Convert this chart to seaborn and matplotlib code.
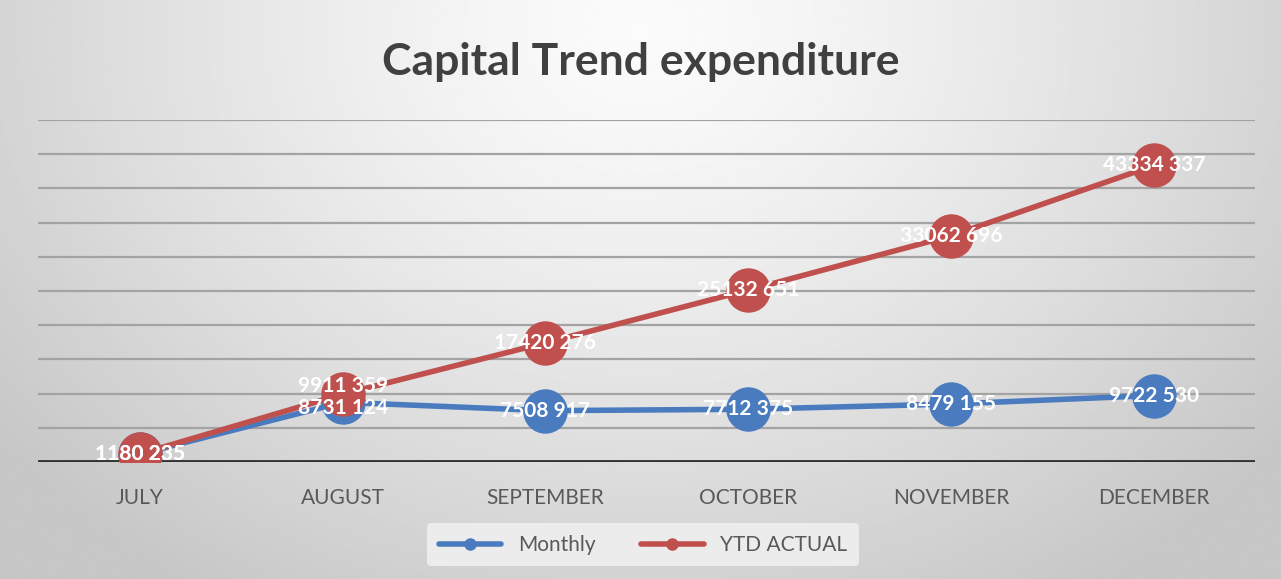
import numpy as np
import pandas as pd
import matplotlib
matplotlib.use("Agg")
import matplotlib.pyplot as plt
from matplotlib.lines import Line2D
import seaborn as sns

# chart data
months = ["JULY", "AUGUST", "SEPTEMBER", "OCTOBER", "NOVEMBER", "DECEMBER"]
monthly = [1180235, 8731124, 7508917, 7712375, 8479155, 9722530]
ytd_actual = [1180235, 9911359, 17420276, 25132651, 33062696, 43334337]
series_names = ["Monthly", "YTD ACTUAL"]
colors = ["#4a7bbf", "#c0504d"]

df = pd.DataFrame({
    "month": months * 2,
    "value": monthly + ytd_actual,
    "series": [series_names[0]] * len(months) + [series_names[1]] * len(months),
})

sns.set_theme(style="white")
plt.rcParams["font.family"] = ["Lato", "DejaVu Sans"]

fig = plt.figure(figsize=(12.81, 5.79), dpi=100)

# radial grey background like the original
bg = fig.add_axes([0, 0, 1, 1], zorder=-10)
xx, yy = np.meshgrid(np.linspace(-1, 1, 400), np.linspace(0, 1, 200))
r = np.sqrt((xx / 1.1) ** 2 + ((yy - 0.05) / 1.0) ** 2)
shade = np.clip(0.985 - 0.17 * r ** 1.3, 0.78, 1)
bg.imshow(shade, cmap="gray", vmin=0, vmax=1, aspect="auto", extent=[0, 1, 1, 0])
bg.axis("off")

ax = fig.add_axes([0.030, 0.202, 0.950, 0.591])
ax.set_facecolor("none")

for val in range(5000000, 50000001, 5000000):
    ax.axhline(val, color="#a3a3a3", lw=1.6, zorder=0)
ax.axhline(0, color="#333333", lw=3.5, zorder=1)

sns.lineplot(data=df, x="month", y="value", hue="series", palette=colors,
             marker="o", markersize=32, markeredgewidth=0, linewidth=4,
             sort=False, legend=False, ax=ax, zorder=3)

# data labels, white on the markers; the two August labels are pulled apart a bit
for k, vals in enumerate([monthly, ytd_actual]):
    for i, v in enumerate(vals):
        dy = 0
        if i == 1:
            dy = -4 if k == 0 else 6
        ax.annotate(f"{v // 1000} {v % 1000:03d}", (i, v), xytext=(0, dy),
                    textcoords="offset points", ha="center", va="center",
                    color="white", fontsize=15, fontweight="bold", zorder=5)

ax.set_xlim(-0.5, len(months) - 0.5)
ax.set_ylim(0, 50000000)
ax.set_yticks([])
ax.set_xlabel("")
ax.set_ylabel("")
ax.tick_params(axis="x", length=0, labelsize=15, labelcolor="#595959", pad=19)
for s in ax.spines.values():
    s.set_visible(False)

fig.text(0.5, 0.893, "Capital Trend expenditure", ha="center", va="center",
         fontsize=32, fontweight="bold", color="#404040")

handles = [Line2D([], [], color=c, lw=4, marker="o", markersize=8) for c in colors]
leg = fig.legend(handles, series_names, loc="center", bbox_to_anchor=(0.502, 0.059),
                 ncol=2, frameon=True, fontsize=15, handlelength=3.0,
                 columnspacing=2.2, borderpad=0.55, labelcolor="#595959")
leg.get_frame().set_facecolor("#ececec")
leg.get_frame().set_edgecolor("none")
leg.get_frame().set_alpha(1)

fig.savefig("out.png", dpi=100)
